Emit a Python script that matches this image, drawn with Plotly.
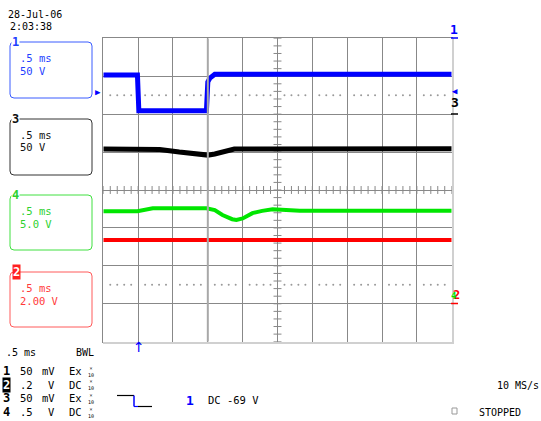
import plotly.graph_objects as go

W, H = 541, 421

# ---- data: time in ms (relative to trigger), vertical position in screen divisions ----
ch1_t = [-0.5, -0.01, 0.01, 0.98, 1.0, 1.03, 1.1, 4.5]
ch1_v = [3.03, 3.03, 2.09, 2.09, 2.85, 2.95, 3.05, 3.05]
ch3_t = [-0.5, 0.31, 0.59, 0.88, 1.0, 1.1, 1.24, 1.38, 4.5]
ch3_v = [1.08, 1.07, 1.0, 0.95, 0.92, 0.95, 1.01, 1.08, 1.09]
ch4_t = [-0.5, -0.01, 0.21, 0.98, 1.1, 1.21, 1.35, 1.41, 1.5, 1.64, 1.78, 1.93, 2.32, 4.5]
ch4_v = [-0.56, -0.56, -0.48, -0.48, -0.53, -0.66, -0.77, -0.79, -0.75, -0.61, -0.55, -0.51, -0.55, -0.55]
ch2_t = [-0.5, 4.5]
ch2_v = [-1.32, -1.32]

ch_names = ["1", "3", "4", "2"]
box_tb = [".5 ms", ".5 ms", ".5 ms", ".5 ms"]
box_vd = ["50 V", "50 V", "5.0 V", "2.00 V"]
row_num = ["1", "2", "3", "4"]
row_val = ["50", ".2", "50", ".5"]
row_unit = ["mV", "V", "mV", "V"]
row_cpl = ["Ex", "DC", "Ex", "DC"]
date_txt = "28-Jul-06"
time_txt = "2:03:38"
trig_txt = "DC -69 V"
rate_txt = "10 MS/s"
status_txt = "STOPPED"

BLUE = "#0000ff"
GREEN = "#00e600"
RED = "#ff0000"
BLACK = "#000000"
GRID = "#888888"
FONT = "DejaVu Sans Mono"

def px(x):
    return x / W

def py(y):
    return 1 - y / H

fig = go.Figure()

# grid decorations: center-line minor ticks and dotted reference lines
tx, ty = [], []
for i in range(41):
    yv = -4 + i * 0.2
    tx += [1.943, 2.057, None]
    ty += [yv, yv, None]
for i in range(51):
    xv = -0.5 + i * 0.1
    tx += [xv, xv, None]
    ty += [-0.105, 0.105, None]
fig.add_trace(go.Scatter(x=tx, y=ty, mode="lines", line=dict(color=GRID, width=1),
                         hoverinfo="skip", showlegend=False))
dx, dy = [], []
for lvl in (2.5, -2.5):
    for i in range(51):
        if i % 5 == 0:
            continue
        dx.append(-0.5 + i * 0.1)
        dy.append(lvl)
fig.add_trace(go.Scatter(x=dx, y=dy, mode="markers", marker=dict(color="#999999", size=2),
                         hoverinfo="skip", showlegend=False))

# traces
for t, v, c, w in [(ch1_t, ch1_v, BLUE, 5), (ch3_t, ch3_v, BLACK, 5),
                   (ch4_t, ch4_v, GREEN, 4), (ch2_t, ch2_v, RED, 4)]:
    fig.add_trace(go.Scatter(x=t, y=v, mode="lines", line=dict(color=c, width=w),
                             hoverinfo="skip", showlegend=False))

shapes = []
# thicker marker gridline and border shadow
shapes.append(dict(type="line", xref="x", yref="y", x0=1.0, x1=1.0, y0=-4, y1=4,
                   line=dict(color="#a8a8a8", width=2)))
shapes.append(dict(type="line", xref="paper", yref="paper", x0=px(453), x1=px(453), y0=py(38), y1=py(343),
                   line=dict(color="#d0d0d0", width=2)))
shapes.append(dict(type="line", xref="paper", yref="paper", x0=px(103), x1=px(454), y0=py(343), y1=py(343),
                   line=dict(color="#d0d0d0", width=2)))

def rbox(x0, y0, x1, y1, r, color):
    X0, X1 = px(x0), px(x1)
    Y0, Y1 = py(y0), py(y1)
    rx, ry = r / W, r / H
    p = (f"M {X0+rx} {Y0} L {X1-rx} {Y0} Q {X1} {Y0} {X1} {Y0-ry} "
         f"L {X1} {Y1+ry} Q {X1} {Y1} {X1-rx} {Y1} L {X0+rx} {Y1} "
         f"Q {X0} {Y1} {X0} {Y1+ry} L {X0} {Y0-ry} Q {X0} {Y0} {X0+rx} {Y0} Z")
    return dict(type="path", xref="paper", yref="paper", path=p, line=dict(color=color, width=1))

box_geo = [(10, 42, 92, 98), (10, 119, 92, 175), (10, 195, 92, 250), (10, 272, 92, 327)]
box_line = ["#3a5cff", "#333333", "#40e040", "#ff5a5a"]
box_text = ["#1f3fff", "#111111", "#2ed12e", "#ff3a3a"]
for (x0, y0, x1, y1), lc in zip(box_geo, box_line):
    shapes.append(rbox(x0, y0, x1, y1, 4, lc))

# step trigger symbol
shapes += [
    dict(type="line", xref="paper", yref="paper", x0=px(117), x1=px(134), y0=py(395.5), y1=py(395.5), line=dict(color=BLACK, width=1.2)),
    dict(type="line", xref="paper", yref="paper", x0=px(134), x1=px(134), y0=py(395.5), y1=py(406.5), line=dict(color=BLUE, width=1.5)),
    dict(type="line", xref="paper", yref="paper", x0=px(134), x1=px(138), y0=py(406.5), y1=py(406.5), line=dict(color=BLUE, width=1.2)),
    dict(type="line", xref="paper", yref="paper", x0=px(138), x1=px(152), y0=py(406.5), y1=py(406.5), line=dict(color=BLACK, width=1.2)),
    # underline marks at right edge
    dict(type="line", xref="paper", yref="paper", x0=px(451), x1=px(458), y0=py(38), y1=py(38), line=dict(color=BLUE, width=1.5)),
    dict(type="line", xref="paper", yref="paper", x0=px(451), x1=px(458), y0=py(114), y1=py(114), line=dict(color=BLACK, width=1.5)),
    dict(type="line", xref="paper", yref="paper", x0=px(451), x1=px(458), y0=py(303.5), y1=py(303.5), line=dict(color=RED, width=1.5)),
    # small status square
    dict(type="rect", xref="paper", yref="paper", x0=px(452), x1=px(457), y0=py(408), y1=py(414), line=dict(color="#999999", width=1)),
]

ann = []

def A(x, y, text, color=BLACK, size=10, xa="left", bold=False, bg=None, font=FONT):
    t = f"<b>{text}</b>" if bold else text
    d = dict(x=px(x), y=py(y), xref="paper", yref="paper", text=t, showarrow=False,
             xanchor=xa, yanchor="middle", font=dict(family=font, size=size, color=color),
             borderpad=0)
    if bg:
        d["bgcolor"] = bg
    ann.append(d)

A(7, 14, date_txt, size=10)
A(9, 27, time_txt, size=10)

label_pos = [(15, 42), (15, 119), (15, 195), (16, 272)]
for i in range(4):
    x0, y0, x1, y1 = box_geo[i]
    A(19, y0 + 16, box_tb[i], box_text[i], size=10.5)
    A(19, y0 + 28.5, box_vd[i], box_text[i], size=10.5)
    lx, ly = label_pos[i]
    if ch_names[i] == "2":
        A(lx, ly, ch_names[i], "#ffffff", size=12, xa="center", bold=True, bg="#ff2020")
    else:
        A(lx, ly, ch_names[i], box_text[i], size=12, xa="center", bold=True, bg="#ffffff")

A(5, 352, ".5 ms", size=10)
A(75, 352, "BWL", size=10)
row_y = [371, 384.5, 398, 412]
for i in range(4):
    y = row_y[i]
    if row_num[i] == "2":
        A(6, y, row_num[i], "#ffffff", size=12, xa="center", bold=True, bg=BLACK)
    else:
        A(6, y, row_num[i], BLACK, size=12, xa="center", bold=True)
    A(19, y, row_val[i], size=10.5)
    A(56, y, row_unit[i], size=10.5, xa="right")
    A(68, y, row_cpl[i], size=10.5)
    ann.append(dict(x=px(91), y=py(y), xref="paper", yref="paper", text="×<br>10", showarrow=False,
                    xanchor="center", yanchor="middle", font=dict(family=FONT, size=5, color=BLACK)))

A(190, 400, "1", BLUE, size=13, xa="center", bold=True)
A(207, 400, trig_txt, size=10.5)
A(540, 385, rate_txt, size=10, xa="right")
A(478, 412, status_txt, size=10)

# markers around grid
A(454, 29, "1", BLUE, size=13, xa="center", bold=True)
A(455, 91.5, "◀", BLUE, size=9, xa="center")
A(98, 92, "▶", BLUE, size=9, xa="center")
A(455, 102.5, "3", BLACK, size=13, xa="center", bold=True)
A(456, 295, "2", RED, size=12, xa="center", bold=True)
A(454, 296, "4", GREEN, size=9, xa="center", bold=True)
A(138.7, 347, "↑", BLUE, size=14, xa="center", font="DejaVu Sans")

fig.update_layout(
    width=W, height=H, margin=dict(l=0, r=0, t=0, b=0),
    paper_bgcolor="#ffffff", plot_bgcolor="#ffffff",
    xaxis=dict(domain=[px(103.3), px(451.7)], range=[-0.5, 4.5], tick0=-0.5, dtick=0.5,
               showgrid=True, gridcolor=GRID, gridwidth=1, zeroline=False,
               showticklabels=False, ticks="", showline=True, mirror=True, linecolor=GRID, linewidth=1),
    yaxis=dict(domain=[py(341.7), py(38.3)], range=[-4, 4], dtick=1,
               showgrid=True, gridcolor=GRID, gridwidth=1, zeroline=False,
               showticklabels=False, ticks="", showline=True, mirror=True, linecolor=GRID, linewidth=1),
    shapes=shapes, annotations=ann, showlegend=False,
)

fig.write_html("out.html")
